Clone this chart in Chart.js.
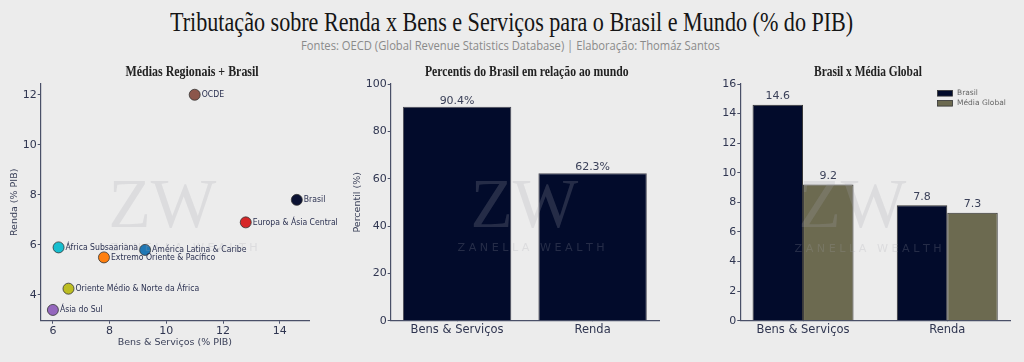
<!DOCTYPE html>
<html><head><meta charset="utf-8">
<script src="https://cdn.jsdelivr.net/npm/chart.js@4.4.1/dist/chart.umd.min.js"></script>
<style>
html,body{margin:0;padding:0}
body{background:#ececec;width:1024px;height:362px;overflow:hidden;position:relative;font-family:'DejaVu Sans',sans-serif}
.t{position:absolute;white-space:nowrap;line-height:1.2;}
.wm{position:absolute;white-space:pre;line-height:1;pointer-events:none;z-index:5}
canvas{position:absolute}
</style></head><body>
<canvas id="c1" width="340" height="302" style="left:0px;top:60px"></canvas>
<canvas id="c2" width="340" height="302" style="left:340px;top:60px"></canvas>
<canvas id="c3" width="344" height="302" style="left:680px;top:60px"></canvas>
<script>
// ---- data ----
const regions = ['OCDE','Brasil','Europa & Ásia Central','África Subsaariana','América Latina & Caribe','Extremo Oriente & Pacífico','Oriente Médio & Norte da África','Ásia do Sul'];
const bensServicosPIB = [11.0, 14.6, 12.8, 6.2, 9.25, 7.8, 6.55, 6.0];
const rendaPIB = [12.0, 7.8, 6.9, 5.9, 5.8, 5.5, 4.25, 3.4];
const regionColors = ['#8c564b','#0b1233','#d62728','#17becf','#1f77b4','#ff7f0e','#bcbd22','#9467bd'];

const categories = ['Bens & Serviços','Renda'];
const percentisBrasil = [90.4, 62.3];
const brasilValores = [14.6, 7.8];
const mediaGlobalValores = [9.2, 7.3];
const seriesNames = ['Brasil','Média Global'];

const NAVY = '#020b2b', OLIVE = '#6c6a50';
const AX = '#4a5068', TK = '#2f3550';
const FONT = "'DejaVu Sans'";

// ---- text helpers ----
function place(text, font, color, cx, cy, w, cls) {
  const d = document.createElement('div');
  d.className = cls || 't';
  d.textContent = text; d.style.font = font; d.style.color = color;
  document.body.appendChild(d);
  const nat = d.offsetWidth, h = d.offsetHeight;
  const s = w ? w / nat : 1;
  d.style.left = (cx - nat / 2) + 'px';
  d.style.top = (cy - h / 2) + 'px';
  d.style.transform = 'scaleX(' + s + ')';
  d.style.transformOrigin = '50% 50%';
  return d;
}
place('Tributação sobre Renda x Bens e Serviços para o Brasil e Mundo (% do PIB)', "28px 'Liberation Serif'", '#151515', 511, 22, 683);
place('Fontes: OECD (Global Revenue Statistics Database) | Elaboração: Thomáz Santos', "12px 'Open Sans'", '#8a8a8a', 510, 45, 419);
place('Médias Regionais + Brasil', "bold 14px 'Liberation Serif'", '#222', 191.5, 72, 133);
place('Percentis do Brasil em relação ao mundo', "bold 14px 'Liberation Serif'", '#222', 526.5, 72, 204);
place('Brasil x Média Global', "bold 14px 'Liberation Serif'", '#222', 868, 72, 108);

// ---- shared axis styling ----
function axis(o) {
  return Object.assign({
    border: {display: true, color: AX, width: 1.2},
    grid: {display: true, drawOnChartArea: false, drawTicks: true, tickLength: 3, color: AX, offset: false},
    ticks: {color: TK, font: {family: FONT, size: 11}, padding: 1}
  }, o);
}
function fixW(w) { return function (s) { s.width = w; }; }
function fixH(h) { return function (s) { s.height = h; }; }

// ---- chart 1: scatter ----
const pointLabels = {
  id: 'pointLabels',
  afterDatasetsDraw(chart) {
    const ctx = chart.ctx, meta = chart.getDatasetMeta(0);
    ctx.save();
    ctx.font = '9px ' + FONT; ctx.fillStyle = '#2a3050';
    ctx.textAlign = 'left'; ctx.textBaseline = 'middle';
    meta.data.forEach((el, i) => {
      ctx.save();
      ctx.translate(el.x + 7, el.y);
      ctx.scale(0.86, 1);
      ctx.fillText(regions[i], 0, 0);
      ctx.restore();
    });
    ctx.restore();
  }
};
new Chart(document.getElementById('c1'), {
  type: 'scatter',
  data: {datasets: [{
    data: regions.map((r, i) => ({x: bensServicosPIB[i], y: rendaPIB[i]})),
    pointRadius: 5.5, pointHoverRadius: 5.5,
    pointBackgroundColor: regionColors, pointBorderColor: '#333', pointBorderWidth: 0.8
  }]},
  options: {
    responsive: false, animation: false, events: [],
    layout: {padding: {top: 24, right: 31, left: 0, bottom: 0}},
    plugins: {legend: {display: false}, tooltip: {enabled: false}},
    scales: {
      x: axis({type: 'linear', min: 5.57, max: 15.03,
        ticks: {color: TK, font: {family: FONT, size: 11}, padding: 1, stepSize: 2, includeBounds: false},
        title: {display: true, text: 'Bens & Serviços (% PIB)', color: '#3b4159', font: {family: FONT, size: 9.5}, padding: {top: 0, bottom: 14}},
        afterFit: fixH(41.3)}),
      y: axis({type: 'linear', min: 2.97, max: 12.43,
        ticks: {color: TK, font: {family: FONT, size: 11}, padding: 1, stepSize: 2, includeBounds: false},
        title: {display: true, text: 'Renda (% PIB)', color: '#3b4159', font: {family: FONT, size: 9.5}, padding: {top: 9, bottom: 0}},
        afterFit: fixW(40.7)})
    }
  },
  plugins: [pointLabels]
});

// ---- bar value labels ----
function barLabels(fmt, gap) {
  return {
    id: 'barLabels',
    afterDatasetsDraw(chart) {
      const ctx = chart.ctx;
      ctx.save();
      ctx.font = '11px ' + FONT; ctx.fillStyle = '#3b4159';
      ctx.textAlign = 'center'; ctx.textBaseline = 'bottom';
      chart.data.datasets.forEach((ds, di) => {
        chart.getDatasetMeta(di).data.forEach((el, i) => {
          ctx.fillText(fmt(ds.data[i].y), el.x, el.y - gap);
        });
      });
      ctx.restore();
    }
  };
}
function catTicks(v) { return Number.isInteger(v) && categories[v] !== undefined ? categories[v] : ''; }

// ---- chart 2: percentis ----
new Chart(document.getElementById('c2'), {
  type: 'bar',
  data: {datasets: [{
    data: categories.map((c, i) => ({x: i, y: percentisBrasil[i]})),
    backgroundColor: NAVY, borderColor: '#4a4a55', borderWidth: 1,
    barPercentage: 0.8, categoryPercentage: 1.0
  }]},
  options: {
    responsive: false, animation: false, events: [],
    layout: {padding: {top: 24, right: 21, left: 0, bottom: 0}},
    plugins: {legend: {display: false}, tooltip: {enabled: false}},
    scales: {
      x: axis({type: 'linear', min: -0.49, max: 1.49, offset: false,
        grid: {display: true, drawOnChartArea: false, drawTicks: true, tickLength: 0, color: AX, offset: false},
        ticks: {color: TK, font: {family: FONT, size: 11.5}, padding: 2, stepSize: 1, includeBounds: false, callback: catTicks, maxRotation: 0, autoSkip: false},
        afterFit: fixH(41.3)}),
      y: axis({min: 0, max: 100,
        ticks: {color: TK, font: {family: FONT, size: 11}, padding: 1, stepSize: 20},
        title: {display: true, text: 'Percentil (%)', color: '#3b4159', font: {family: FONT, size: 9.5}, padding: {top: 12, bottom: 0}},
        afterFit: fixW(50.7)})
    }
  },
  plugins: [barLabels(v => v.toFixed(1) + '%', 0.5)]
});

// ---- chart 3: Brasil x Média Global ----
const legendPlugin = {
  id: 'miniLegend',
  afterDraw(chart) {
    const ctx = chart.ctx;
    ctx.save();
    ctx.font = '7.5px ' + FONT; ctx.textBaseline = 'middle'; ctx.textAlign = 'left';
    chart.data.datasets.forEach((ds, i) => {
      const y = 33.3 + i * 10;
      ctx.fillStyle = ds.backgroundColor;
      ctx.fillRect(257.5, y - 2.8, 15, 5.6);
      ctx.strokeStyle = '#333'; ctx.lineWidth = 0.8;
      ctx.strokeRect(257.5, y - 2.8, 15, 5.6);
      ctx.fillStyle = '#666';
      ctx.fillText(ds.label, 277, y);
    });
    ctx.restore();
  }
};
new Chart(document.getElementById('c3'), {
  type: 'bar',
  data: {datasets: [
    {label: seriesNames[0], data: categories.map((c, i) => ({x: i, y: brasilValores[i]})),
     backgroundColor: NAVY, borderColor: '#333', borderWidth: 1, barPercentage: 1.0, categoryPercentage: 0.7},
    {label: seriesNames[1], data: categories.map((c, i) => ({x: i, y: mediaGlobalValores[i]})),
     backgroundColor: OLIVE, borderColor: '#333', borderWidth: 1, barPercentage: 1.0, categoryPercentage: 0.7}
  ]},
  options: {
    responsive: false, animation: false, events: [],
    layout: {padding: {top: 24, right: 14, left: 0, bottom: 0}},
    plugins: {legend: {display: false}, tooltip: {enabled: false}},
    scales: {
      x: axis({type: 'linear', min: -0.435, max: 1.435, offset: false,
        grid: {display: true, drawOnChartArea: false, drawTicks: true, tickLength: 0, color: AX, offset: false},
        ticks: {color: TK, font: {family: FONT, size: 11.5}, padding: 2, stepSize: 1, includeBounds: false, callback: catTicks, maxRotation: 0, autoSkip: false},
        afterFit: fixH(41.3)}),
      y: axis({min: 0, max: 16,
        ticks: {color: TK, font: {family: FONT, size: 11}, padding: 1, stepSize: 2},
        afterFit: fixW(60.3)})
    }
  },
  plugins: [barLabels(v => v.toFixed(1), 3), legendPlugin]
});

// ---- watermark (logo text) ----
const WM = 'rgba(165,165,172,0.22)';
[[162, 204], [524, 204], [852, 204]].forEach(([cx, cy]) => {
  place('ZW', "70px 'Liberation Serif'", WM, cx, cy, 108, 'wm');
});
[[184, 247], [531, 247], [868, 248]].forEach(([cx, cy]) => {
  place('Z A N E L L A   W E A L T H', "10px 'DejaVu Sans'", WM, cx, cy, 147, 'wm');
});
</script>
</body></html>
